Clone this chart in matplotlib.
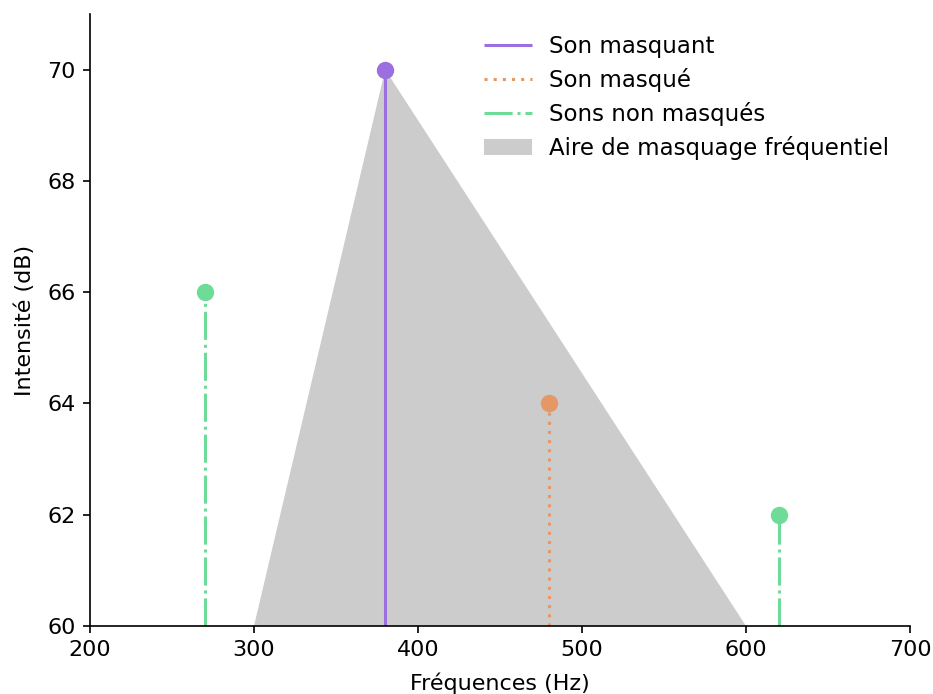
import numpy as np
import matplotlib
matplotlib.use("Agg")
import matplotlib.pyplot as plt

# Données du masquage fréquentiel
freq_masquant = 380
int_masquant = 70
freq_masque = 480
int_masque = 64
freq_non_masques = [270, 620]
int_non_masques = [66, 62]
zone_freqs = [300, 380, 600]
zone_ints = [60, 70, 60]

violet = '#9B6FE0'
orange = '#E59866'
vert = '#6EDC98'

fig = plt.figure(figsize=(9.33, 6.94), dpi=100)
ax = fig.add_axes([90 / 933, 68 / 694, 820 / 933, 612 / 694])

ax.fill(zone_freqs, zone_ints, color='#CCCCCC', lw=0, label='Aire de masquage fréquentiel', zorder=1)

lw = 2.2
ax.vlines(freq_masquant, 60, int_masquant, color=violet, lw=lw, label='Son masquant', zorder=2)
ax.plot(freq_masquant, int_masquant, 'o', color=violet, ms=11.5, zorder=3)

ax.vlines(freq_masque, 60, int_masque, color=orange, lw=lw, linestyles=(0, (1, 2)), label='Son masqué', zorder=2)
ax.plot(freq_masque, int_masque, 'o', color=orange, ms=11.5, zorder=3)

ax.vlines(freq_non_masques, 60, int_non_masques, color=vert, lw=lw, linestyles=(0, (9.2, 1.6, 1, 1.6)),
          label='Sons non masqués', zorder=2)
ax.plot(freq_non_masques, int_non_masques, 'o', color=vert, ms=11.5, lw=0, zorder=3)

ax.set_xlim(200, 700)
ax.set_ylim(60, 71)
ax.set_yticks([60, 62, 64, 66, 68, 70])
ax.spines['top'].set_visible(False)
ax.spines['right'].set_visible(False)
for s in ['left', 'bottom']:
    ax.spines[s].set_linewidth(1.2)
ax.tick_params(labelsize=16, length=5.25, width=1.2, pad=5)
ax.set_xlabel('Fréquences (Hz)', fontsize=16, labelpad=9)
ax.set_ylabel('Intensité (dB)', fontsize=16, labelpad=9)

handles, labels = ax.get_legend_handles_labels()
ordre = ['Son masquant', 'Son masqué', 'Sons non masqués', 'Aire de masquage fréquentiel']
h = [handles[labels.index(o)] for o in ordre]
ax.legend(h, ordre, loc='upper right', frameon=False, fontsize=16.5, handlelength=2.1,
          labelspacing=0.44, handletextpad=0.75)

plt.savefig('out.png', dpi=100)
